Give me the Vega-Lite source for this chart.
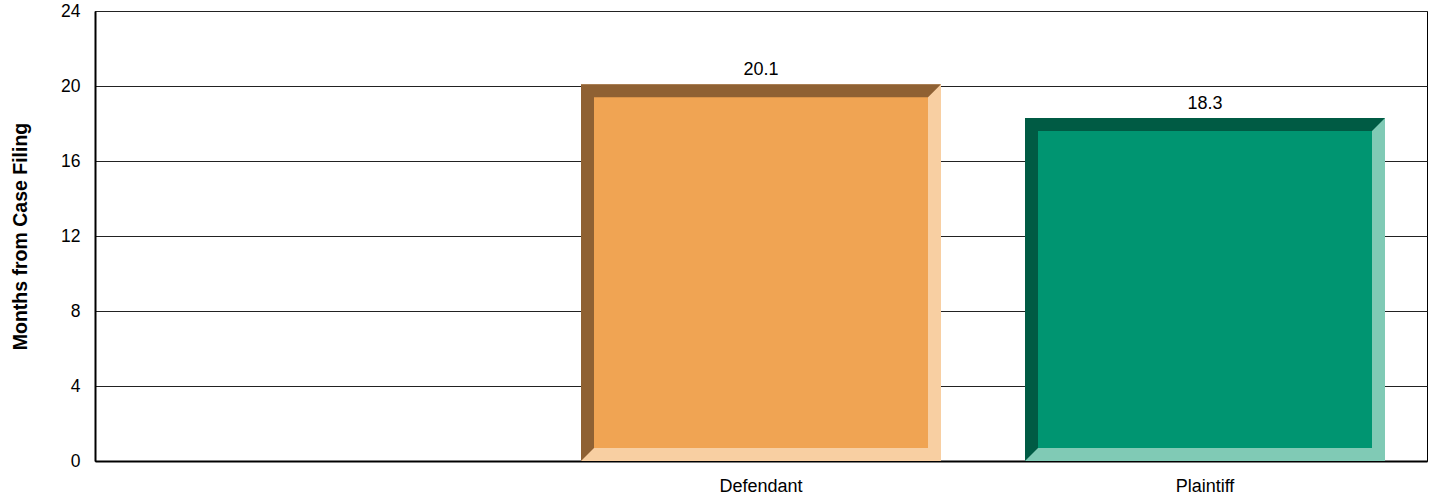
{
  "$schema": "https://vega.github.io/schema/vega-lite/v6.json",
  "width": 1332,
  "height": 450,
  "autosize": "none",
  "padding": {"left": 95, "top": 11, "right": 2, "bottom": 36},
  "background": "white",
  "config": {
    "font": "Liberation Sans",
    "view": {"stroke": "#000", "strokeWidth": 1},
    "axis": {"labelFont": "Liberation Sans", "titleFont": "Liberation Sans"}
  },
  "data": {"values": [
    {"cat": "Defendant", "v": 20.1},
    {"cat": "Plaintiff", "v": 18.3}
  ]},
  "encoding": {
    "x": {
      "field": "cat", "type": "nominal",
      "scale": {"domain": ["", "Defendant", "Plaintiff"], "paddingInner": 0.19, "paddingOuter": 0.095},
      "axis": {"title": null, "labelAngle": 0, "labelFontSize": 18, "labelColor": "#000", "labelPadding": 16, "ticks": false, "domainColor": "#000", "domainWidth": 2}
    },
    "y": {
      "field": "v", "type": "quantitative",
      "scale": {"domain": [0, 24], "nice": false},
      "axis": {"values": [0, 4, 8, 12, 16, 20, 24], "title": "Months from Case Filing", "titleFontSize": 19.5, "titleFontWeight": "bold", "titleColor": "#000", "titleX": -75, "titleY": 225, "titleAngle": -90, "titleAlign": "center", "titleBaseline": "middle", "labelFontSize": 17.5, "labelColor": "#000", "labelPadding": 15, "ticks": false, "domainColor": "#000", "domainWidth": 2, "grid": true, "gridColor": "#222", "gridWidth": 1}
    }
  },
  "layer": [
    {
      "mark": {"type": "bar", "width": 360},
      "encoding": {
        "y2": {"datum": 0},
        "color": {"field": "cat", "type": "nominal", "scale": {"domain": ["Defendant", "Plaintiff"], "range": ["#F8CFA2", "#80CAB5"]}, "legend": null}
      }
    },
    {
      "mark": {"type": "bar", "width": 347, "xOffset": -6.5, "y2Offset": -13},
      "encoding": {
        "y2": {"datum": 0},
        "color": {"field": "cat", "type": "nominal", "scale": {"domain": ["Defendant", "Plaintiff"], "range": ["#8F6133", "#005B44"]}, "legend": null}
      }
    },
    {
      "mark": {"type": "point", "shape": "M-1,-1L1,-1L-1,1Z", "size": 169, "filled": true, "opacity": 1, "strokeWidth": 0, "xOffset": 173.5, "yOffset": 6.5},
      "encoding": {
        "color": {"field": "cat", "type": "nominal", "scale": {"domain": ["Defendant", "Plaintiff"], "range": ["#8F6133", "#005B44"]}, "legend": null}
      }
    },
    {
      "mark": {"type": "point", "shape": "M-1,-1L1,-1L-1,1Z", "size": 169, "filled": true, "opacity": 1, "strokeWidth": 0, "xOffset": -173.5, "yOffset": -6.5},
      "encoding": {
        "y": {"datum": 0, "type": "quantitative"},
        "color": {"field": "cat", "type": "nominal", "scale": {"domain": ["Defendant", "Plaintiff"], "range": ["#8F6133", "#005B44"]}, "legend": null}
      }
    },
    {
      "mark": {"type": "bar", "width": 334, "yOffset": 13, "y2Offset": -13},
      "encoding": {
        "y2": {"datum": 0},
        "color": {"field": "cat", "type": "nominal", "scale": {"domain": ["Defendant", "Plaintiff"], "range": ["#F0A453", "#009571"]}, "legend": null}
      }
    },
    {
      "mark": {"type": "text", "dy": -14, "fontSize": 18, "color": "#000", "font": "Liberation Sans"},
      "encoding": {
        "text": {"field": "v", "type": "quantitative", "format": ".1f"}
      }
    }
  ],
  "resolve": {"scale": {"color": "independent"}}
}
